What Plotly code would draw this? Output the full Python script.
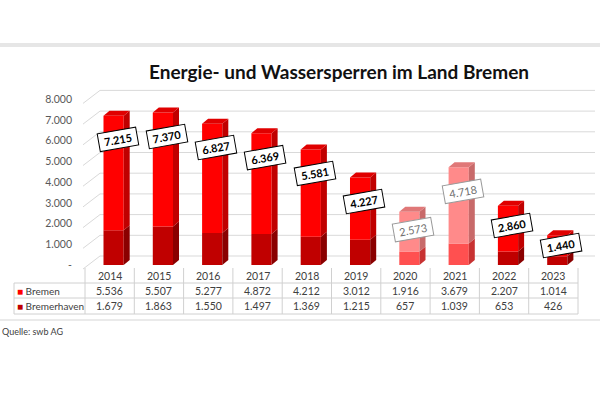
import plotly.graph_objects as go

# ---------------- data ----------------
years = ["2014", "2015", "2016", "2017", "2018", "2019", "2020", "2021", "2022", "2023"]
bremen = [5536, 5507, 5277, 4872, 4212, 3012, 1916, 3679, 2207, 1014]
bremerhaven = [1679, 1863, 1550, 1497, 1369, 1215, 657, 1039, 653, 426]
series_names = ["Bremen", "Bremerhaven"]
y_tick_values = [0, 1000, 2000, 3000, 4000, 5000, 6000, 7000, 8000]
y_tick_labels = ["-", "1.000", "2.000", "3.000", "4.000", "5.000", "6.000", "7.000", "8.000"]
faded_years = ["2020", "2021"]
title_text = "Energie- und Wassersperren im Land Bremen"
source_text = "Quelle: swb AG"

totals = [a + b for a, b in zip(bremen, bremerhaven)]


def de_fmt(v):
    return f"{v:,}".replace(",", ".")


# ---------------- geometry / style ----------------
W, H = 600, 400
FONT = "Lato"
X_LEFT_PX, X_RIGHT_PX = 85, 578
PX_PER_UNIT = (X_RIGHT_PX - X_LEFT_PX) / len(years)
Y_ZERO_PX = 265
PX_PER_VAL = 0.0207
Y_RANGE = [-500, 9000]


def ypx(v):
    return Y_ZERO_PX - v * PX_PER_VAL


def px_to_paper_y(p):
    return 1 - p / H


BAR_W = 0.41
BAR_OFF = -0.125
DX = 6 / PX_PER_UNIT
DY = 5 / PX_PER_VAL
GRID_DX_PX = 15
GRID_DY = 9 / PX_PER_VAL

normal = dict(bh_front="#C00000", bh_side="#8A0000", br_front="#FF0000", br_side="#C00000", top="#E00000",
              lab_text="#000000", lab_border="#000000", bold=True)
faded = dict(bh_front="#FF5050", bh_side="#C83232", br_front="#FF8A8A", br_side="#C86A6A", top="#E07878",
             lab_text="#6f6f6f", lab_border="#9a9a9a", bold=False)
styles = [faded if y in faded_years else normal for y in years]

xs = list(range(len(years)))

fig = go.Figure()

# front faces
fig.add_trace(go.Bar(x=xs, y=bremerhaven, name=series_names[1], width=BAR_W, offset=BAR_OFF,
                     marker=dict(color=[s["bh_front"] for s in styles], line=dict(width=0)),
                     hoverinfo="skip", showlegend=False))
fig.add_trace(go.Bar(x=xs, y=bremen, base=bremerhaven, name=series_names[0], width=BAR_W, offset=BAR_OFF,
                     marker=dict(color=[s["br_front"] for s in styles], line=dict(width=0)),
                     hoverinfo="skip", showlegend=False))

# 3D side and top faces
for i, s in enumerate(styles):
    L = xs[i] + BAR_OFF
    R = L + BAR_W
    segs = [(0, bremerhaven[i], s["bh_side"]), (bremerhaven[i], totals[i], s["br_side"])]
    for y0, y1, col in segs:
        fig.add_trace(go.Scatter(x=[R, R + DX, R + DX, R, R], y=[y0, y0 + DY, y1 + DY, y1, y0],
                                 fill="toself", fillcolor=col, mode="lines", line=dict(width=0, color=col),
                                 hoverinfo="skip", showlegend=False))
    T = totals[i]
    fig.add_trace(go.Scatter(x=[L, L + DX, R + DX, R, L], y=[T, T + DY, T + DY, T, T],
                             fill="toself", fillcolor=s["top"], mode="lines", line=dict(width=0, color=s["top"]),
                             hoverinfo="skip", showlegend=False))

shapes = []
GRID_COL = "#d9d9d9"
# back-wall gridlines + diagonal connectors
for v in y_tick_values:
    shapes.append(dict(type="line", xref="paper", yref="y", layer="below",
                       x0=(X_LEFT_PX + GRID_DX_PX) / W, x1=595 / W, y0=v + GRID_DY, y1=v + GRID_DY,
                       line=dict(color=GRID_COL, width=1)))
    shapes.append(dict(type="line", xref="paper", yref="y", layer="below",
                       x0=(X_LEFT_PX - 2) / W, x1=(X_LEFT_PX + GRID_DX_PX) / W, y0=v - 4 / PX_PER_VAL,
                       y1=v + GRID_DY, line=dict(color=GRID_COL, width=1)))

# data table lines
TAB_COL = "#d0d0d0"
row_top, row1, row2, row3 = 268, 283, 298, 314
TAB_LEFT = 14
for k in range(len(years) + 1):
    xpx = X_LEFT_PX + k * PX_PER_UNIT
    shapes.append(dict(type="line", xref="paper", yref="paper", x0=xpx / W, x1=xpx / W,
                       y0=px_to_paper_y(row_top), y1=px_to_paper_y(row3), line=dict(color=TAB_COL, width=1)))
shapes.append(dict(type="line", xref="paper", yref="paper", x0=TAB_LEFT / W, x1=TAB_LEFT / W,
                   y0=px_to_paper_y(row1), y1=px_to_paper_y(row3), line=dict(color=TAB_COL, width=1)))
for r in (row1, row2, row3):
    shapes.append(dict(type="line", xref="paper", yref="paper", x0=TAB_LEFT / W, x1=X_RIGHT_PX / W,
                       y0=px_to_paper_y(r), y1=px_to_paper_y(r), line=dict(color=TAB_COL, width=1)))

# top band and bottom separator
shapes.append(dict(type="rect", xref="paper", yref="paper", x0=0, x1=1, y0=px_to_paper_y(47),
                   y1=px_to_paper_y(43), fillcolor="#e6e6e6", line=dict(width=0), layer="below"))
shapes.append(dict(type="line", xref="paper", yref="paper", x0=0, x1=1, y0=px_to_paper_y(320),
                   y1=px_to_paper_y(320), line=dict(color="#e3e3e3", width=1.5)))

annotations = []
TXT = "#404040"
TFS = 10.5
# table text
for i, y in enumerate(years):
    annotations.append(dict(x=xs[i], y=px_to_paper_y(276), xref="x", yref="paper", text=y, showarrow=False,
                            font=dict(family=FONT, size=TFS, color=TXT), yanchor="middle"))
    annotations.append(dict(x=xs[i], y=px_to_paper_y(291), xref="x", yref="paper", text=de_fmt(bremen[i]),
                            showarrow=False, font=dict(family=FONT, size=TFS, color=TXT), yanchor="middle"))
    annotations.append(dict(x=xs[i], y=px_to_paper_y(306), xref="x", yref="paper",
                            text=de_fmt(bremerhaven[i]), showarrow=False,
                            font=dict(family=FONT, size=TFS, color=TXT), yanchor="middle"))
for name, col, rowy in ((series_names[0], normal["br_front"], 291), (series_names[1], normal["bh_front"], 306)):
    annotations.append(dict(x=15 / W, y=px_to_paper_y(rowy), xref="paper", yref="paper", xanchor="left",
                            yanchor="middle", showarrow=False,
                            text=f"<span style='color:{col}'>■</span> {name}",
                            font=dict(family=FONT, size=10, color=TXT)))

# value labels
for i, s in enumerate(styles):
    bar_px = totals[i] * PX_PER_VAL
    shift = -min(24, 0.33 * bar_px)
    txt = de_fmt(totals[i])
    if s["bold"]:
        txt = f"<b>{txt}</b>"
    annotations.append(dict(x=xs[i] + 0.16, y=totals[i], xref="x", yref="y", text=txt, showarrow=False,
                            yshift=shift, textangle=-10, bgcolor="white", bordercolor=s["lab_border"],
                            borderwidth=1, borderpad=2, width=34, height=13,
                            font=dict(family=FONT, size=11, color=s["lab_text"])))

annotations.append(dict(x=0, y=px_to_paper_y(331), xref="paper", yref="paper", xanchor="left",
                        yanchor="middle", text=source_text, showarrow=False,
                        font=dict(family=FONT, size=9, color="#404040")))

fig.update_layout(
    width=W, height=H,
    margin=dict(l=0, r=0, t=0, b=0),
    paper_bgcolor="white", plot_bgcolor="rgba(0,0,0,0)",
    barmode="overlay",
    title=dict(text=f"<b>{title_text}</b>", x=339 / W, xanchor="center", y=px_to_paper_y(72),
               yanchor="middle", font=dict(family=FONT, size=19, color="#111111")),
    xaxis=dict(domain=[X_LEFT_PX / W, X_RIGHT_PX / W], range=[-0.5, len(years) - 0.5],
               showticklabels=False, showgrid=False, zeroline=False, showline=False, fixedrange=True),
    yaxis=dict(domain=[px_to_paper_y(ypx(Y_RANGE[0])), px_to_paper_y(ypx(Y_RANGE[1]))], range=Y_RANGE,
               tickvals=y_tick_values, ticktext=y_tick_labels, showgrid=False, zeroline=False,
               showline=False, ticks="", ticklabelstandoff=12,
               tickfont=dict(family=FONT, size=10.5, color="#595959")),
    shapes=shapes,
    annotations=annotations,
)

fig.write_html("out.html")
